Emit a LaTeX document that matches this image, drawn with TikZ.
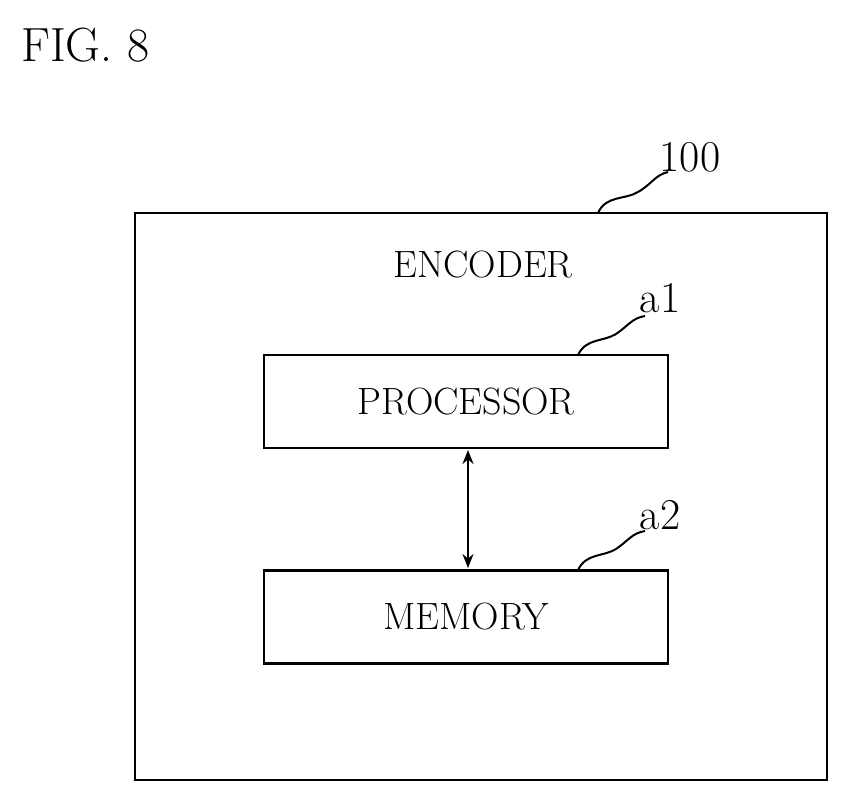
\documentclass[tikz,border=0pt]{standalone}
\usetikzlibrary{arrows.meta}
\begin{document}
\begin{tikzpicture}[x=1pt,y=-1pt,line width=2.6pt,
  box/.style={draw,minimum width=404pt,minimum height=93pt,inner sep=0pt,font=\fontsize{38}{40}\selectfont},
  lbl/.style={font=\fontsize{44}{46}\selectfont,inner sep=0pt},
  lead/.style={line width=2pt}]
\useasboundingbox (0,0) rectangle (850,804);
\node[lbl,anchor=west,font=\fontsize{48}{50}\selectfont] (fig) at (20,45) {FIG. 8};
\node[draw,minimum width=692pt,minimum height=567pt,inner sep=0pt] (enc) at (481,496.5) {};
\node[font=\fontsize{38}{40}\selectfont,inner sep=0pt] (enct) at (483,265) {ENCODER};
\node[box] (proc) at (466,401.5) {PROCESSOR};
\node[box] (mem) at (466,617) {MEMORY};
\draw[{Stealth[length=14pt,width=11pt]}-{Stealth[length=14pt,width=11pt]}] (468,450) coordinate (p1) -- (468,568) coordinate (p2);
\node[lbl] (l100) at (690,157) {100};
\node[lbl] (la1) at (660,298) {a1};
\node[lbl] (la2) at (660,515) {a2};
\coordinate (c0) at (598,213);
\coordinate (c1) at (578,355);
\coordinate (c2) at (578,570);
\draw[lead] (c0) .. controls (606,195) and (625,200) .. (638,192) .. controls (652,184) and (655,175) .. (668,172);
\draw[lead] (c1) .. controls (586,338) and (603,342) .. (616,334) .. controls (628,326) and (632,318) .. (645,316);
\draw[lead] (c2) .. controls (586,553) and (603,557) .. (616,549) .. controls (628,541) and (632,533) .. (645,531);
\end{tikzpicture}
\end{document}
